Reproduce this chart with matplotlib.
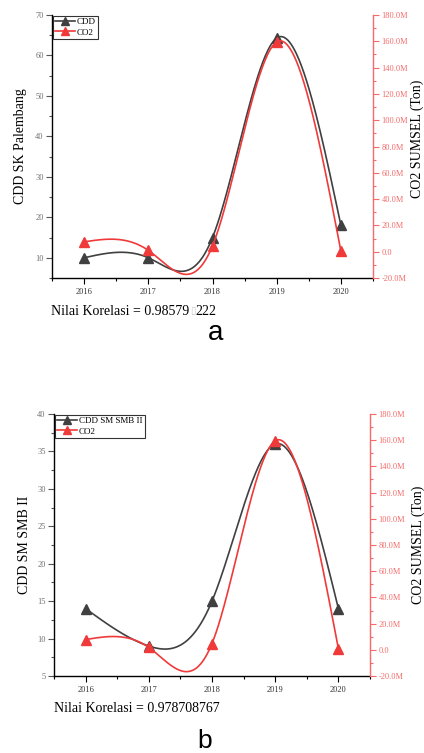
import numpy as np
import matplotlib
matplotlib.use('Agg')
import matplotlib.pyplot as plt
from matplotlib.ticker import MultipleLocator, FuncFormatter

years = [2016, 2017, 2018, 2019, 2020]
cdd_sk = [10, 10, 15, 64.3, 18]
co2_a = [7.5e6, 1.0e6, 4.5e6, 159.5e6, 0.5e6]
cdd_smb = [14, 9, 15, 36, 14]
co2_b = [7.8e6, 1.8e6, 4.8e6, 159.5e6, 0.8e6]

corr_a_parts = ["Nilai Korelasi = 0.98579", "\u25af", "222"]
corr_b = "Nilai Korelasi = 0.978708767"

GRAY = '#404040'
RED = '#f03a3a'
RAX = '#f56a6a'
SERIF = ['Liberation Serif', 'DejaVu Serif']


def natural_spline(x, y, xs):
    x = np.asarray(x, float); y = np.asarray(y, float)
    n = len(x)
    h = np.diff(x)
    A = np.zeros((n, n)); b = np.zeros(n)
    A[0, 0] = 1; A[-1, -1] = 1
    for i in range(1, n - 1):
        A[i, i - 1] = h[i - 1]
        A[i, i] = 2 * (h[i - 1] + h[i])
        A[i, i + 1] = h[i]
        b[i] = 3 * ((y[i + 1] - y[i]) / h[i] - (y[i] - y[i - 1]) / h[i - 1])
    c = np.linalg.solve(A, b)
    out = np.empty_like(xs)
    for k, xv in enumerate(xs):
        i = min(max(np.searchsorted(x, xv) - 1, 0), n - 2)
        dx = xv - x[i]
        bb = (y[i + 1] - y[i]) / h[i] - h[i] * (2 * c[i] + c[i + 1]) / 3
        d = (c[i + 1] - c[i]) / (3 * h[i])
        out[k] = y[i] + bb * dx + c[i] * dx ** 2 + d * dx ** 3
    return out


def fmt_m(v, pos):
    if abs(v) < 1:
        return '0.0'
    return '%.1fM' % (v / 1e6)


def panel(fig, rect, cdd, co2, ylim, ymaj, cdd_label, leg_label, lx, rx, ry):
    ax = fig.add_axes(rect)
    ax2 = ax.twinx()
    xs = np.linspace(years[0], years[-1], 300)
    ax.plot(xs, natural_spline(years, cdd, xs), color=GRAY, lw=1.2)
    ax.plot(years, cdd, ls='none', marker='^', ms=7, color=GRAY)
    ax2.plot(xs, natural_spline(years, co2, xs), color=RED, lw=1.2)
    ax2.plot(years, co2, ls='none', marker='^', ms=7, color=RED)

    ax.set_xlim(2015.5, 2020.5)
    ax.set_ylim(*ylim)
    ax2.set_ylim(-20e6, 180e6)
    ax.set_xticks(years)
    ax.xaxis.set_minor_locator(MultipleLocator(0.5))
    ax.yaxis.set_major_locator(MultipleLocator(ymaj))
    ax.yaxis.set_minor_locator(MultipleLocator(ymaj / 2))
    ax2.yaxis.set_major_locator(MultipleLocator(20e6))
    ax2.yaxis.set_minor_locator(MultipleLocator(10e6))
    ax2.yaxis.set_major_formatter(FuncFormatter(fmt_m))

    for a in (ax, ax2):
        a.spines['top'].set_visible(False)
    ax.spines['right'].set_visible(False)
    ax2.spines['left'].set_visible(False)
    ax2.spines['bottom'].set_visible(False)
    ax2.spines['right'].set_color(RAX)
    ax2.spines['right'].set_linewidth(1.0)
    ax.spines['left'].set_linewidth(1.0)
    ax.spines['bottom'].set_linewidth(1.0)

    ax.tick_params(axis='x', which='major', direction='out', length=4, width=0.8,
                   labelsize=6, pad=3, labelcolor='#333333')
    ax.tick_params(axis='x', which='minor', direction='out', length=2.5, width=0.8)
    ax.tick_params(axis='y', which='major', direction='out', length=4, width=0.8,
                   labelsize=6, pad=2, labelcolor='#707070', color='#555555')
    ax.tick_params(axis='y', which='minor', direction='out', length=2.5, width=0.8,
                   color='#555555')
    ax2.tick_params(axis='y', which='major', direction='out', length=4, width=0.8,
                    labelsize=6, pad=2, labelcolor=RAX, color=RAX)
    ax2.tick_params(axis='y', which='minor', direction='out', length=2.5, width=0.8,
                    color=RAX)
    for lab in ax.get_xticklabels() + ax.get_yticklabels() + ax2.get_yticklabels():
        lab.set_family(SERIF)

    ax.set_ylabel(cdd_label, fontsize=10, family=SERIF)
    ax.yaxis.set_label_coords(lx, 0.5)
    ax2.set_ylabel('CO2 SUMSEL (Ton)', fontsize=10, family=SERIF, rotation=90)
    ax2.yaxis.set_label_coords(rx, ry)

    h1 = plt.Line2D([], [], color=GRAY, lw=1.2, marker='^', ms=6)
    h2 = plt.Line2D([], [], color=RED, lw=1.2, marker='^', ms=6)
    leg = ax2.legend([h1, h2], [leg_label, 'CO2'],
                     loc='upper left', bbox_to_anchor=(0.0, 1.0), borderaxespad=0.1,
                     prop={'family': SERIF, 'size': 6.5}, frameon=True,
                     fancybox=False, edgecolor='black', handlelength=2.2,
                     handletextpad=0.2, labelspacing=0.2, borderpad=0.25)
    leg.get_frame().set_linewidth(0.8)
    return ax, ax2


fig = plt.figure(figsize=(4.24, 7.53), dpi=100)
W, H = 424.0, 753.0
panel(fig, [52 / W, 1 - 278 / H, 321 / W, 263 / H], cdd_sk, co2_a, (5, 70), 10,
      'CDD SK Palembang', 'CDD', -0.078, 1.118, 0.53)
panel(fig, [54 / W, 1 - 676 / H, 316 / W, 262 / H], cdd_smb, co2_b, (5, 40), 5,
      'CDD SM SMB II', 'CDD SM SMB II', -0.073, 1.13, 0.5)

# correlation text for panel a, built in three pieces
fig.canvas.draw()
r = fig.canvas.get_renderer()
x0 = 51.0
t1 = fig.text(x0 / W, 1 - 311 / H, corr_a_parts[0], fontsize=10, family=SERIF,
              va='center', ha='left')
bb = t1.get_window_extent(renderer=r)
t2 = fig.text((bb.x1 + 0.5) / W, 1 - 311 / H, corr_a_parts[1], fontsize=7,
              family=['DejaVu Sans'], color='#c8c8c8', va='center', ha='left')
bb2 = t2.get_window_extent(renderer=r)
fig.text((bb2.x1 + 0.2) / W, 1 - 311 / H, corr_a_parts[2], fontsize=10, family=SERIF,
         va='center', ha='left')

fig.text(54 / W, 1 - 708 / H, corr_b, fontsize=10, family=SERIF, va='center', ha='left')
fig.text(216 / W, 1 - 340 / H, 'a', fontsize=20, family=['Liberation Sans', 'DejaVu Sans'],
         ha='center', va='baseline')
fig.text(205 / W, 1 - 748 / H, 'b', fontsize=19, family=['Liberation Sans', 'DejaVu Sans'],
         ha='center', va='baseline')

fig.savefig('out.png', dpi=100)
